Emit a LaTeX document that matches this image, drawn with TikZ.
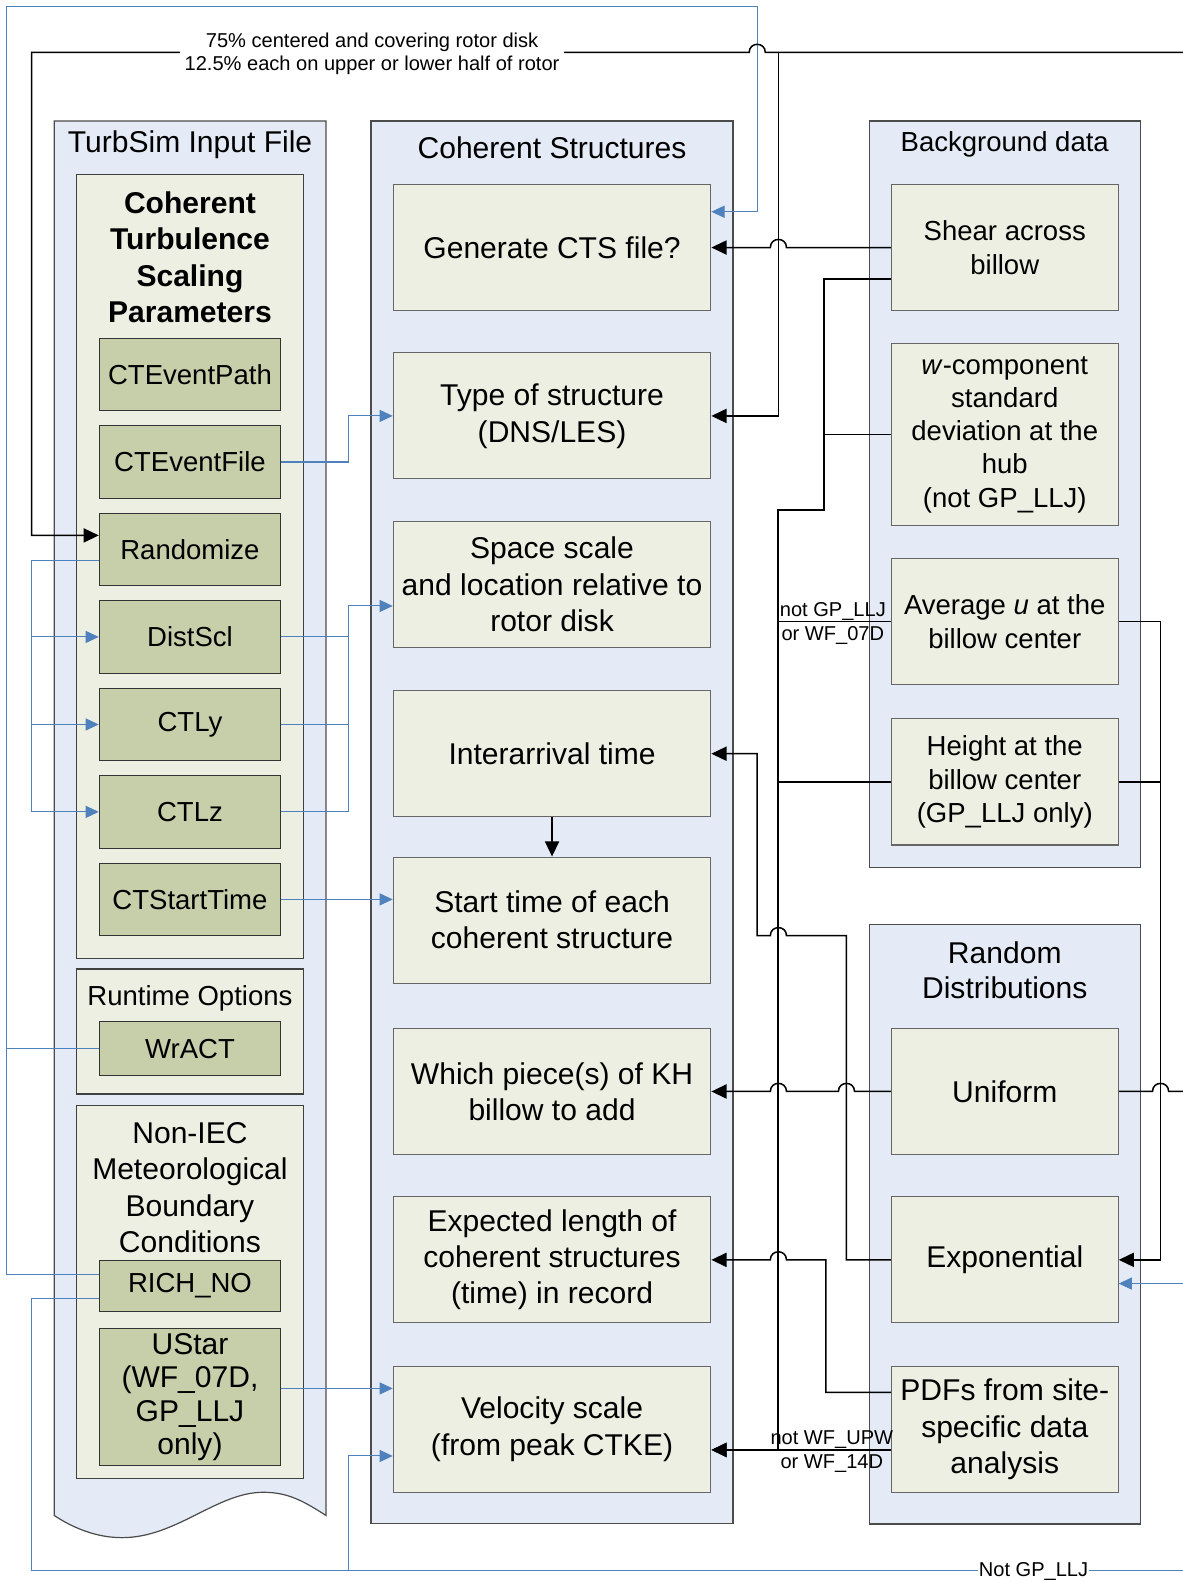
\documentclass[tikz,border=0pt]{standalone}
\usepackage{fontspec}
\setmainfont{Liberation Sans}
\usetikzlibrary{arrows.meta,calc}
\definecolor{contblue}{RGB}{228,235,246}
\definecolor{cream}{RGB}{238,239,227}
\definecolor{itemgreen}{RGB}{198,206,170}
\definecolor{lnblue}{RGB}{79,129,189}
\newcommand{\szBig}{\fontsize{29.8}{36}\selectfont}
\newcommand{\szMed}{\fontsize{27.3}{33}\selectfont}
\newcommand{\szSm}{\fontsize{19.9}{23.5}\selectfont}
\tikzset{
  cont/.style={draw=black!70, line width=1.2pt, fill=contblue, inner sep=0pt},
  inbox/.style={draw=black!75, line width=1.1pt, fill=cream, inner sep=0pt},
  item/.style={draw=black!80, line width=1.1pt, fill=itemgreen, minimum width=179.8pt, minimum height=72pt, inner sep=0pt, align=center, font=\szMed},
  mbox/.style={draw=black!60, line width=1.1pt, fill=cream, minimum width=315pt, minimum height=125pt, inner sep=0pt, align=center, font=\szBig},
  rbox/.style={draw=black!60, line width=1.1pt, fill=cream, minimum width=225pt, minimum height=125pt, inner sep=0pt, align=center},
  ttl/.style={inner sep=0pt, align=center},
  lbl/.style={inner sep=0pt, align=center, font=\szSm},
  bk/.style={line width=1.5pt, black},
  bkT/.style={line width=2.1pt, black},
  bkA/.style={bk, -{Triangle[length=15pt,width=14pt]}},
  bkTA/.style={bkT, -{Triangle[length=15pt,width=14pt]}},
  bl/.style={line width=1pt, lnblue},
  blA/.style={bl, -{Triangle[length=13pt,width=12pt]}}
}
\begin{document}
\begin{tikzpicture}[x=1pt,y=-1pt]
\useasboundingbox (0,0) rectangle (1173,1568);
\fill[white] (0,0) rectangle (1173,1568);

% ---------- containers ----------
\path[cont] (53.8,120) -- (323.3,120) -- (323.3,1503)
  .. controls (300,1488) and (285,1480) .. (261,1480)
  .. controls (215,1480) and (175,1525) .. (121,1525)
  .. controls (95,1525) and (72,1515) .. (53.8,1503) -- cycle;
\node[ttl, font=\szBig] (tsif) at (188.5,144) {TurbSim Input File};

\node[cont, minimum width=359pt, minimum height=1391pt] (coh) at (547.5,815.5) {};
\node[ttl, font=\szBig] (cohT) at (547.5,147) {Coherent Structures};

\node[cont, minimum width=269pt, minimum height=740.4pt] (bg) at (996.5,490.2) {};
\node[ttl, font=\szMed] (bgT) at (996.5,143) {Background data};

\node[cont, minimum width=269pt, minimum height=595pt] (rnd) at (996.5,1214) {};
\node[ttl, font=\fontsize{29.8}{35}\selectfont] (rndT) at (996.5,962) {Random\\Distributions};

% ---------- left inner boxes ----------
\node[inbox, minimum width=224.7pt, minimum height=777.2pt] (ctsp) at (188.35,561.6) {};
\node[ttl, font=\szBig\bfseries] (ctspT) at (188.4,255) {Coherent\\Turbulence\\Scaling\\Parameters};
\node[item] (cpath) at (188.4,371.5) {CTEventPath};
\node[item] (cfile) at (188.4,458.2) {CTEventFile};
\node[item] (rand)  at (188.4,545)   {Randomize};
\node[item] (dist)  at (188.4,631.7) {DistScl};
\node[item] (ctly)  at (188.4,718.5) {CTLy};
\node[item] (ctlz)  at (188.4,805.2) {CTLz};
\node[item] (cst)   at (188.4,892)   {CTStartTime};

\node[inbox, minimum width=224.7pt, minimum height=124pt] (rt) at (188.35,1023) {};
\node[ttl, font=\szMed] (rtT) at (188.4,990) {Runtime Options};
\node[item, minimum height=54pt] (wract) at (188.4,1040) {WrACT};

\node[inbox, minimum width=224.7pt, minimum height=370.6pt] (nie) at (188.35,1281.3) {};
\node[ttl, font=\szBig] (nieT) at (188.4,1178) {Non-IEC\\Meteorological\\Boundary\\Conditions};
\node[item, minimum height=50.6pt] (rich) at (188.4,1275.3) {RICH\_NO};
\node[item, minimum height=135pt, font=\fontsize{29.8}{33}\selectfont] (ustar) at (188.4,1385.5) {UStar\\(WF\_07D,\\GP\_LLJ\\only)};

% ---------- middle boxes ----------
\node[mbox] (gen)    at (547.5,245.5)  {Generate CTS file?};
\node[mbox, font=\fontsize{29.8}{37}\selectfont] (type) at (547.5,412.5) {Type of structure\\(DNS/LES)};
\node[mbox] (space)  at (547.5,579.5)  {Space scale\\and location relative to\\rotor disk};
\node[mbox] (inter)  at (547.5,747.5)  {Interarrival time};
\node[mbox] (start)  at (547.5,912.5)  {Start time of each\\coherent structure};
\node[mbox] (which)  at (547.5,1082.5) {Which piece(s) of KH\\billow to add};
\node[mbox] (explen) at (547.5,1249.5) {Expected length of\\coherent structures\\(time) in record};
\node[mbox] (vel)    at (547.5,1417.5) {Velocity scale\\(from peak CTKE)};

% ---------- right boxes ----------
\node[rbox, font=\szMed] (shear) at (996.5,245.5) {Shear across\\billow};
\node[rbox, font=\szMed, minimum height=180pt] (wcomp) at (996.5,431) {\textit{w}-component\\standard\\deviation at the\\hub\\(not GP\_LLJ)};
\node[rbox, font=\szMed] (avg) at (996.5,616.5) {Average \textit{u} at the\\billow center};
\node[rbox, font=\szMed] (hgt) at (996.5,775.5) {Height at the\\billow center\\(GP\_LLJ only)};
\node[rbox, font=\szBig] (uni) at (996.5,1082.5) {Uniform};
\node[rbox, font=\szBig] (exp) at (996.5,1249.5) {Exponential};
\node[rbox, font=\szBig] (pdf) at (996.5,1417.5) {PDFs from site-\\specific data\\analysis};

% ---------- free ends at the picture edge ----------
\coordinate (etop) at (1175,52);
\coordinate (euni) at (1175,1082.5);
\coordinate (eexp) at (1175,1273);
\coordinate (ebot) at (1175,1558);

% ---------- blue connectors ----------
\draw[bl] (wract.west) -- (6.5,1040);
\draw[blA] ($(rich.west)+(0,-11)$) -- (6.5,1264.3) -- (6.5,6) -- (751,6) -- (751,210) -- ($(gen.east)+(0,-35.5)$);
\draw[bl] ($(rich.west)+(0,12.5)$) -- (31.4,1287.8) -- (31.4,1558) -- (ebot);
\draw[blA] (345.4,1558) -- (345.4,1444) -- ($(vel.west)+(0,26.5)$);
\draw[bl] ($(rand.west)+(0,11)$) -- (31.4,556) -- (31.4,805.2);
\draw[blA] (31.4,631.7) -- (dist.west);
\draw[blA] (31.4,718.5) -- (ctly.west);
\draw[blA] (31.4,805.2) -- (ctlz.west);
\draw[blA] (cfile.east) -- (345.4,458.2) -- (345.4,412.5) -- (type.west);
\draw[bl] (dist.east) -- (345.4,631.7);
\draw[bl] (ctly.east) -- (345.4,718.5);
\draw[blA] (ctlz.east) -- (345.4,805.2) -- (345.4,601) -- ($(space.west)+(0,21.5)$);
\draw[blA] (cst.east) -- (cst.east -| start.west);
\draw[blA] ($(ustar.east)+(0,-8.5)$) -- ($(vel.west)+(0,-40.5)$);
\draw[blA] (eexp) -- ($(exp.east)+(0,23.5)$);

% ---------- black connectors ----------
\draw[bkA] (etop) -- (759,52) .. controls (759,41.3) and (743,41.3) .. (743,52) -- (31.4,52) -- (31.4,531) -- ($(rand.west)+(0,-14)$);
\draw[bkA] (772,52) -- (772,412.5) -- (type.east);
\draw[bkA] (shear.west) -- (780,245.5) .. controls (780,234.8) and (764,234.8) .. (764,245.5) -- (gen.east);
\draw[bkTA] ($(shear.west)+(0,31.5)$) -- (817.5,277) -- (817.5,506) -- (772,506) -- (772,1438) -- ($(vel.east)+(0,20.5)$);
\draw[bk] (wcomp.west) -- (817.5,431);
\draw[bk] (avg.west) -- (772,616.5);
\draw[bk] (hgt.west) -- (772,775.5);
\draw[bkA] ($(pdf.west)+(0,20.5)$) -- ($(vel.east)+(0,20.5)$);
\draw[bkA] (exp.west) -- (839.5,1249.5) -- (839.5,928) -- (780,928) .. controls (780,917.3) and (764,917.3) .. (764,928) -- (751,928) -- (751,747.5) -- (inter.east);
\draw[bkA] (uni.west) -- (847.5,1082.5) .. controls (847.5,1071.8) and (831.5,1071.8) .. (831.5,1082.5) -- (780,1082.5) .. controls (780,1071.8) and (764,1071.8) .. (764,1082.5) -- (which.east);
\draw[bkA] ($(pdf.west)+(0,-36.5)$) -- (819,1381) -- (819,1249.5) -- (780,1249.5) .. controls (780,1238.8) and (764,1238.8) .. (764,1249.5) -- (explen.east);
\draw[bkA] (avg.east) -- (1151,616.5) -- (1151,1249.5) -- (exp.east);
\draw[bk] (hgt.east) -- (1151,775.5);
\draw[bk] (uni.east) -- (1143,1082.5) .. controls (1143,1071.8) and (1159,1071.8) .. (1159,1082.5) -- (euni);
\draw[bkA] (inter.south) -- (start.north);

% ---------- labels ----------
\node[lbl, fill=white, inner xsep=5pt, inner ysep=1pt] (toplbl) at (369,53.5) {75\% centered and covering rotor disk\\12.5\% each on upper or lower half of rotor};
\node[lbl, font=\fontsize{19.9}{24}\selectfont] (lblA) at (826,618) {not GP\_LLJ\\or WF\_07D};
\node[lbl, font=\fontsize{19.9}{24}\selectfont] (lblB) at (825,1439.5) {not WF\_UPW\\or WF\_14D};
\node[lbl, fill=white, inner xsep=1pt, inner ysep=1pt] (lblC) at (1025,1559) {Not GP\_LLJ};
\end{tikzpicture}
\end{document}
